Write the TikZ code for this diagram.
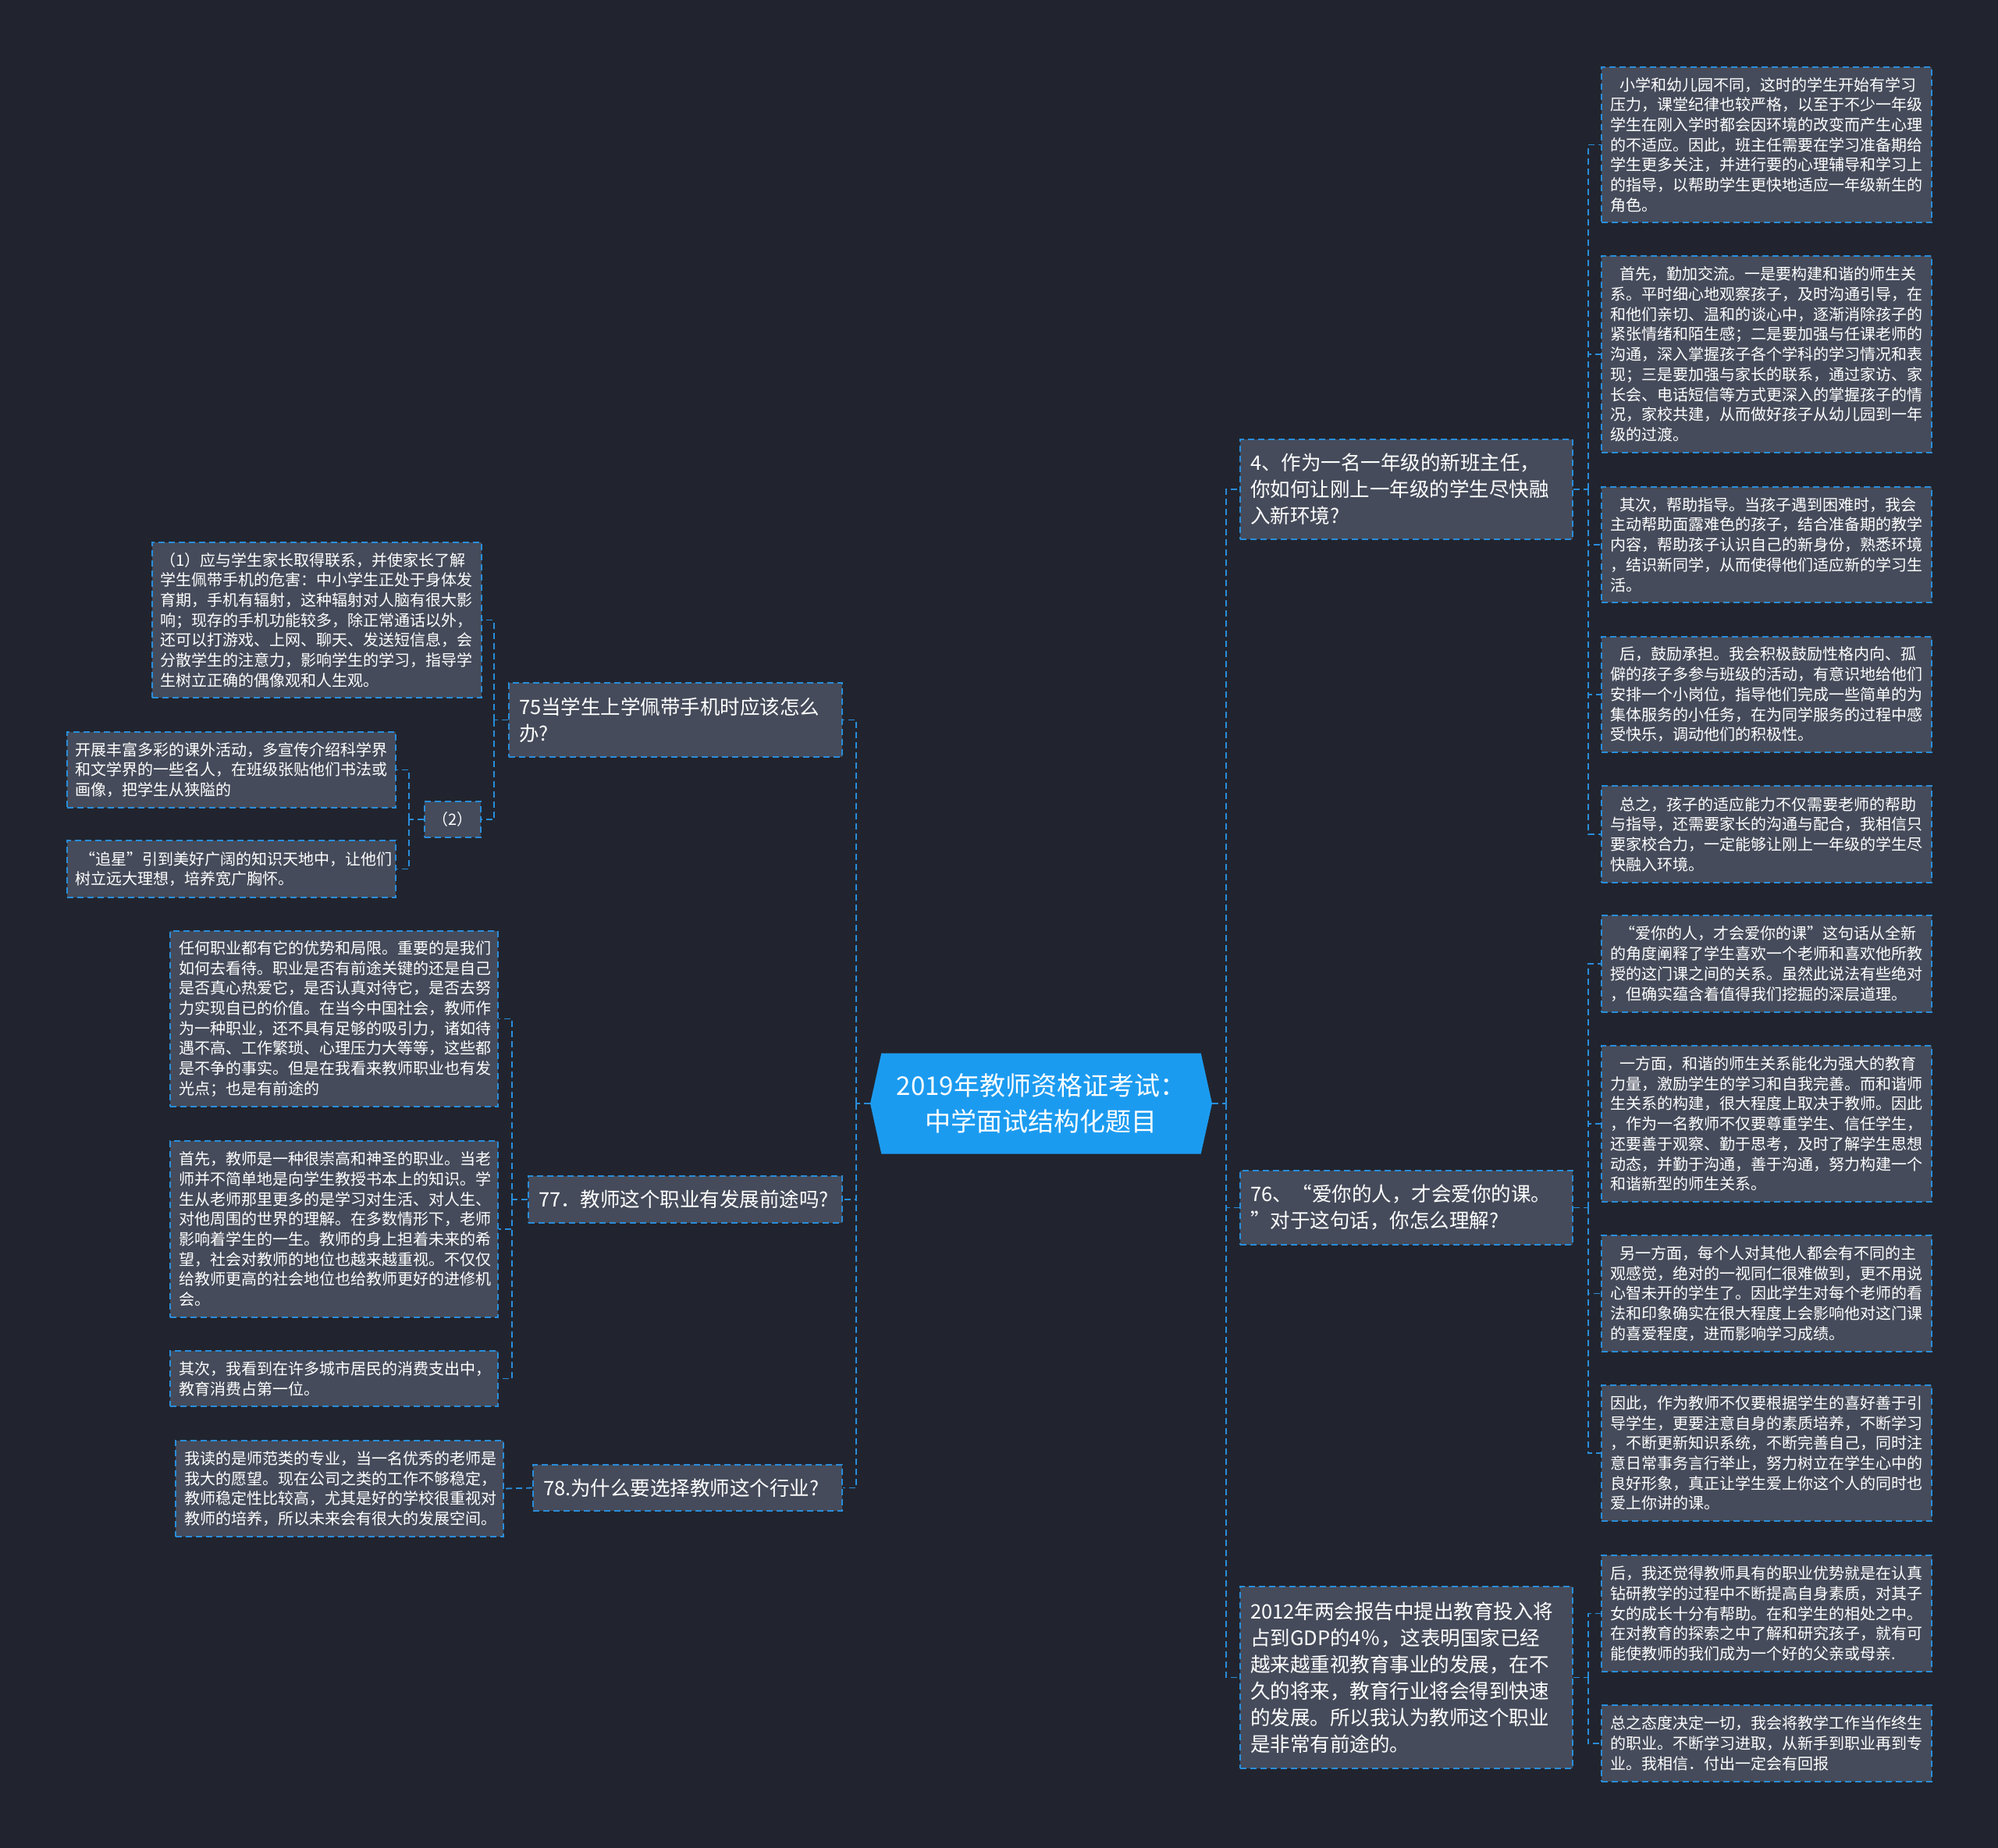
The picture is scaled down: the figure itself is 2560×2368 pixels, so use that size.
\documentclass[tikz,border=0pt]{standalone}
\usepackage{fontspec}
\setmainfont{Noto Sans CJK SC}
\usetikzlibrary{shapes.symbols}
\definecolor{bgc}{RGB}{33,36,46}
\definecolor{boxc}{RGB}{69,75,90}
\definecolor{linec}{RGB}{41,141,219}
\definecolor{rootc}{RGB}{27,155,240}
\setlength\parindent{0pt}
\newcommand\bxnode[8]{%
  \pgfmathsetmacro\bxcx{(#2+#4)/2}%
  \pgfmathsetmacro\bxcy{(#3+#5)/2}%
  \pgfmathsetmacro\bxw{#4-#2}%
  \pgfmathsetmacro\bxh{#5-#3}%
  \pgfmathsetmacro\bxtw{#4-#2-2*#7}%
  \node[#6, inner xsep=#7pt, text width=\bxtw pt, minimum width=\bxw pt, minimum height=\bxh pt] (#1) at (\bxcx,\bxcy) {#8};}
\tikzset{
  leafbox/.style={draw=linec, line width=1.8pt, dash pattern=on 8pt off 5pt, fill=boxc, text=white, align=left, inner ysep=0pt, font=\fontsize{20}{25.7}\selectfont},
  topicbox/.style={draw=linec, line width=1.8pt, dash pattern=on 8pt off 5pt, fill=boxc, text=white, align=left, inner ysep=0pt, font=\fontsize{25.5}{34}\selectfont},
  conn/.style={draw=linec, line width=1.8pt, dash pattern=on 8pt off 5pt},
}
\begin{document}
\begin{tikzpicture}[x=1pt,y=-1pt]
\useasboundingbox (0,0) rectangle (2560,2368);
\fill[bgc] (0,0) rectangle (2560,2368);

% root
\node[signal, signal to=west and east, signal pointer angle=155, fill=rootc, text=white, align=center, font=\fontsize{33}{46}\selectfont, minimum width=438pt, minimum height=129pt, inner sep=0pt] (root) at (1334,1414) {2019年教师资格证考试：\\中学面试结构化题目};

% right topics
\bxnode{n4}{1589}{563}{2015}{691}{topicbox}{13}{4、作为一名一年级的新班主任，\\你如何让刚上一年级的学生尽快融\\入新环境?}
\bxnode{n76}{1589}{1500}{2015}{1595}{topicbox}{13}{76、“爱你的人，才会爱你的课。\\”对于这句话，你怎么理解?}
\bxnode{n2012}{1589}{2033}{2015}{2266}{topicbox}{13}{2012年两会报告中提出教育投入将\\占到GDP的4％，这表明国家已经\\越来越重视教育事业的发展，在不\\久的将来，教育行业将会得到快速\\的发展。所以我认为教师这个职业\\是非常有前途的。}

% right leaves
\bxnode{r1}{2052}{86}{2475}{285}{leafbox}{11}{\hspace*{12pt}小学和幼儿园不同，这时的学生开始有学习\\压力，课堂纪律也较严格，以至于不少一年级\\学生在刚入学时都会因环境的改变而产生心理\\的不适应。因此，班主任需要在学习准备期给\\学生更多关注，并进行要的心理辅导和学习上\\的指导，以帮助学生更快地适应一年级新生的\\角色。}
\bxnode{r2}{2052}{328}{2475}{580}{leafbox}{11}{\hspace*{12pt}首先，勤加交流。一是要构建和谐的师生关\\系。平时细心地观察孩子，及时沟通引导，在\\和他们亲切、温和的谈心中，逐渐消除孩子的\\紧张情绪和陌生感；二是要加强与任课老师的\\沟通，深入掌握孩子各个学科的学习情况和表\\现；三是要加强与家长的联系，通过家访、家\\长会、电话短信等方式更深入的掌握孩子的情\\况，家校共建，从而做好孩子从幼儿园到一年\\级的过渡。}
\bxnode{r3}{2052}{624}{2475}{772}{leafbox}{11}{\hspace*{12pt}其次，帮助指导。当孩子遇到困难时，我会\\主动帮助面露难色的孩子，结合准备期的教学\\内容，帮助孩子认识自己的新身份，熟悉环境\\，结识新同学，从而使得他们适应新的学习生\\活。}
\bxnode{r4}{2052}{816}{2475}{964}{leafbox}{11}{\hspace*{12pt}后，鼓励承担。我会积极鼓励性格内向、孤\\僻的孩子多参与班级的活动，有意识地给他们\\安排一个小岗位，指导他们完成一些简单的为\\集体服务的小任务，在为同学服务的过程中感\\受快乐，调动他们的积极性。}
\bxnode{r5}{2052}{1007}{2475}{1131}{leafbox}{11}{\hspace*{12pt}总之，孩子的适应能力不仅需要老师的帮助\\与指导，还需要家长的沟通与配合，我相信只\\要家校合力，一定能够让刚上一年级的学生尽\\快融入环境。}
\bxnode{r6}{2052}{1173}{2475}{1297}{leafbox}{11}{\hspace*{12pt}“爱你的人，才会爱你的课”这句话从全新\\的角度阐释了学生喜欢一个老师和喜欢他所教\\授的这门课之间的关系。虽然此说法有些绝对\\，但确实蕴含着值得我们挖掘的深层道理。}
\bxnode{r7}{2052}{1340}{2475}{1540}{leafbox}{11}{\hspace*{12pt}一方面，和谐的师生关系能化为强大的教育\\力量，激励学生的学习和自我完善。而和谐师\\生关系的构建，很大程度上取决于教师。因此\\，作为一名教师不仅要尊重学生、信任学生，\\还要善于观察、勤于思考，及时了解学生思想\\动态，并勤于沟通，善于沟通，努力构建一个\\和谐新型的师生关系。}
\bxnode{r8}{2052}{1583}{2475}{1732}{leafbox}{11}{\hspace*{12pt}另一方面，每个人对其他人都会有不同的主\\观感觉，绝对的一视同仁很难做到，更不用说\\心智未开的学生了。因此学生对每个老师的看\\法和印象确实在很大程度上会影响他对这门课\\的喜爱程度，进而影响学习成绩。}
\bxnode{r9}{2052}{1775}{2475}{1949}{leafbox}{11}{因此，作为教师不仅要根据学生的喜好善于引\\导学生，更要注意自身的素质培养，不断学习\\，不断更新知识系统，不断完善自己，同时注\\意日常事务言行举止，努力树立在学生心中的\\良好形象，真正让学生爱上你这个人的同时也\\爱上你讲的课。}
\bxnode{r10}{2052}{1993}{2475}{2142}{leafbox}{11}{后，我还觉得教师具有的职业优势就是在认真\\钻研教学的过程中不断提高自身素质，对其子\\女的成长十分有帮助。在和学生的相处之中。\\在对教育的探索之中了解和研究孩子，就有可\\能使教师的我们成为一个好的父亲或母亲.}
\bxnode{r11}{2052}{2185}{2475}{2283}{leafbox}{11}{总之态度决定一切，我会将教学工作当作终生\\的职业。不断学习进取，从新手到职业再到专\\业。我相信．付出一定会有回报}

% left topics
\bxnode{n75}{652}{875}{1079}{970}{topicbox}{13}{75当学生上学佩带手机时应该怎么\\办?}
\bxnode{n77}{677}{1507}{1079}{1567}{topicbox}{13}{77．教师这个职业有发展前途吗?}
\bxnode{n78}{683}{1877}{1079}{1936}{topicbox}{13}{78.为什么要选择教师这个行业?}

% left leaves
\bxnode{l1}{195}{695}{617}{894}{leafbox}{10}{（1）应与学生家长取得联系，并使家长了解\\学生佩带手机的危害：中小学生正处于身体发\\育期，手机有辐射，这种辐射对人脑有很大影\\响；现存的手机功能较多，除正常通话以外，\\还可以打游戏、上网、聊天、发送短信息，会\\分散学生的注意力，影响学生的学习，指导学\\生树立正确的偶像观和人生观。}
\bxnode{n2}{544}{1027}{616}{1073}{leafbox}{10}{（2）}
\bxnode{l2a}{86}{938}{507}{1035}{leafbox}{10}{开展丰富多彩的课外活动，多宣传介绍科学界\\和文学界的一些名人，在班级张贴他们书法或\\画像，把学生从狭隘的}
\bxnode{l2b}{86}{1077}{507}{1150}{leafbox}{10}{\hspace*{6pt}“追星”引到美好广阔的知识天地中，让他们\\树立远大理想，培养宽广胸怀。}
\bxnode{l3}{218}{1193}{638}{1418}{leafbox}{11}{任何职业都有它的优势和局限。重要的是我们\\如何去看待。职业是否有前途关键的还是自己\\是否真心热爱它，是否认真对待它，是否去努\\力实现自已的价值。在当今中国社会，教师作\\为一种职业，还不具有足够的吸引力，诸如待\\遇不高、工作繁琐、心理压力大等等，这些都\\是不争的事实。但是在我看来教师职业也有发\\光点；也是有前途的}
\bxnode{l4}{218}{1462}{638}{1688}{leafbox}{11}{首先，教师是一种很崇高和神圣的职业。当老\\师并不简单地是向学生教授书本上的知识。学\\生从老师那里更多的是学习对生活、对人生、\\对他周围的世界的理解。在多数情形下，老师\\影响着学生的一生。教师的身上担着未来的希\\望，社会对教师的地位也越来越重视。不仅仅\\给教师更高的社会地位也给教师更好的进修机\\会。}
\bxnode{l5}{218}{1731}{638}{1802}{leafbox}{11}{其次，我看到在许多城市居民的消费支出中，\\教育消费占第一位。}
\bxnode{l6}{225}{1846}{645}{1969}{leafbox}{11}{我读的是师范类的专业，当一名优秀的老师是\\我大的愿望。现在公司之类的工作不够稳定，\\教师稳定性比较高，尤其是好的学校很重视对\\教师的培养，所以未来会有很大的发展空间。}

% connectors: root
\coordinate (rtR) at (1571,1414);
\coordinate (rtL) at (1097,1414);
\draw[conn] (root.east) -- (rtR);
\draw[conn] (rtR) |- (n4.west);
\draw[conn] (rtR) |- (n76.west);
\draw[conn] (rtR) |- (n2012.west);
\draw[conn] (root.west) -- (rtL);
\draw[conn] (rtL) |- (n75.east);
\draw[conn] (rtL) |- (n77.east);
\draw[conn] (rtL) |- (n78.east);

% right branches
\draw[conn] (n4.east) -- ++(19,0) coordinate (t4);
\foreach \c in {r1,r2,r3,r4,r5} \draw[conn] (t4) |- (\c.west);
\draw[conn] (n76.east) -- ++(19,0) coordinate (t76);
\foreach \c in {r6,r7,r8,r9} \draw[conn] (t76) |- (\c.west);
\draw[conn] (n2012.east) -- ++(19,0) coordinate (t12);
\foreach \c in {r10,r11} \draw[conn] (t12) |- (\c.west);

% left branches
\draw[conn] (n75.west) -- ++(-18,0) coordinate (t75);
\foreach \c in {l1,n2} \draw[conn] (t75) |- (\c.east);
\draw[conn] (n2.west) -- ++(-19,0) coordinate (t2);
\foreach \c in {l2a,l2b} \draw[conn] (t2) |- (\c.east);
\draw[conn] (n77.west) -- ++(-20,0) coordinate (t77);
\foreach \c in {l3,l4,l5} \draw[conn] (t77) |- (\c.east);
\draw[conn] (n78.west) -- (l6.east);
\end{tikzpicture}
\end{document}
